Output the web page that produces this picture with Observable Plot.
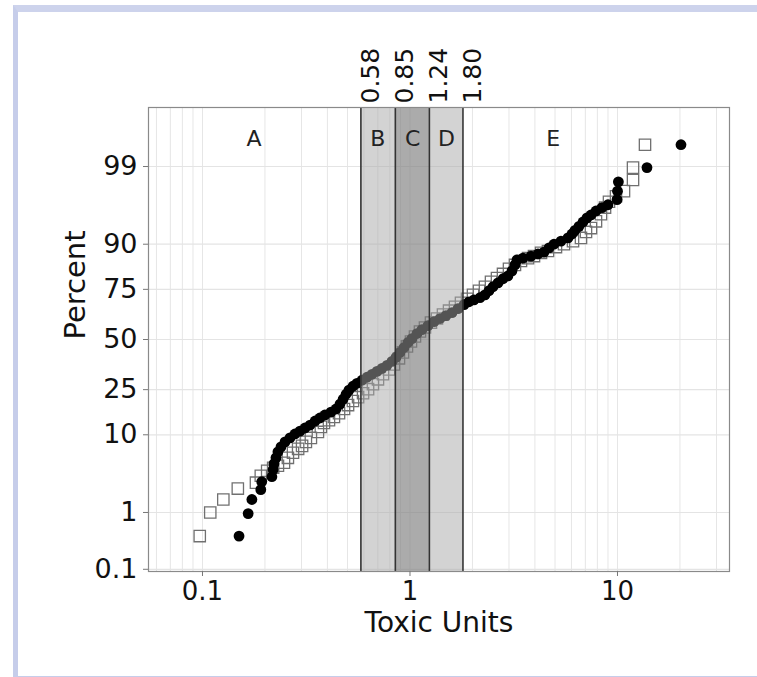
<!DOCTYPE html>
<html>
<head>
<meta charset="utf-8">
<script src="https://cdn.jsdelivr.net/npm/d3@7"></script>
<script src="https://cdn.jsdelivr.net/npm/@observablehq/plot@0.6"></script>
<style>
  html, body { margin: 0; padding: 0; background: #ffffff; }
  #wrap { position: relative; width: 757px; height: 677px; overflow: hidden; }
  #wrap svg { position: absolute; left: 0; top: 0; }
  #border { position: absolute; left: 13px; top: 5px; width: 800px; height: 664px;
    border-left: 5px solid #c6cdea; border-top: 7px solid #cdd3ec; border-bottom: 4px solid #c6cdea;
    pointer-events: none; }
</style>
</head>
<body>
<div id="wrap"><div id="border"></div></div>
<script>
// ---- data (Toxic Units vs cumulative percent) ----
const circleX = [0.150,0.166,0.173,0.191,0.193,0.216,0.219,0.221,0.226,0.231,0.239,0.250,0.264,0.279,0.295,0.312,0.330,0.349,0.368,0.389,0.416,0.440,0.460,0.476,0.492,0.508,0.531,0.555,0.587,0.621,0.656,0.693,0.733,0.775,0.819,0.856,0.895,0.936,0.978,1.022,1.081,1.142,1.221,1.306,1.395,1.491,1.594,1.704,1.821,1.924,2.034,2.174,2.298,2.403,2.512,2.656,2.807,2.967,3.102,3.206,3.279,3.504,3.830,4.140,4.424,4.677,4.943,5.342,5.773,6.035,6.240,6.523,6.820,7.129,7.452,7.878,8.420,9.000,9.95,10.0,10.1,13.87,20.23];
const circlePct = [0.41,0.96,1.57,2.17,2.79,3.25,4.00,4.74,5.58,6.54,7.44,8.43,9.28,10.2,10.9,11.7,12.5,13.65,14.55,15.5,16.45,17.5,19.25,21.1,23.1,24.8,26.5,27.8,29.2,30.6,32.0,33.4,34.9,36.4,38.4,40.5,43.1,45.7,48.4,50.5,53.2,55.3,57.4,59.5,61.1,62.6,64.1,66.1,68.0,69.4,70.3,71.3,72.6,74.4,76.1,77.7,79.3,80.4,82.2,84.2,85.8,86.3,86.9,87.5,88.0,89.1,90.0,90.7,91.4,92.2,92.9,93.6,94.3,94.9,95.3,95.8,96.2,96.5,97.0,97.7,98.3,98.96,99.56];

const squareX = [0.097,0.109,0.126,0.148,0.181,0.191,0.205,0.219,0.231,0.247,0.258,0.273,0.289,0.302,0.315,0.333,0.360,0.372,0.385,0.407,0.430,0.455,0.481,0.503,0.531,0.562,0.594,0.628,0.663,0.701,0.741,0.792,0.837,0.885,0.925,0.967,1.011,1.057,1.117,1.181,1.262,1.349,1.442,1.542,1.648,1.761,1.883,2.012,2.150,2.298,2.457,2.626,2.807,3.000,3.206,3.427,3.705,3.960,4.280,4.625,5.053,5.524,6.104,6.670,7.051,7.452,7.878,8.326,8.709,9.100,9.836,10.75,11.88,11.88,13.57];
const squarePct = [0.41,1.00,1.57,2.25,2.71,3.35,3.88,4.23,4.48,4.87,5.58,6.38,7.07,7.63,8.43,9.28,10.7,12.0,13.1,13.9,14.85,16.1,17.5,18.9,20.4,21.9,23.5,25.2,27.4,29.6,32.0,34.4,36.9,40.0,43.1,46.3,48.9,51.6,54.3,56.4,59.0,61.1,63.1,65.1,67.0,68.9,70.8,72.6,74.4,76.1,78.1,79.6,81.1,82.9,84.2,85.45,86.3,86.9,87.8,88.3,89.3,90.0,90.7,91.4,92.6,93.3,94.4,95.4,96.2,96.8,97.3,97.7,98.4,98.96,99.56];

const bandEdges = [0.58, 0.85, 1.24, 1.80];
const bandShade = ["light", "dark", "light"];
const regionLabels = ["A", "B", "C", "D", "E"];
const regionLabelX = [0.177, 0.70, 1.03, 1.50, 4.9];
const yTickPct = [0.1, 1, 10, 25, 50, 75, 90, 99];
const xTickVals = [0.1, 1, 10];

// ---- helpers ----
function probit(p) {
  const a=[-3.969683028665376e+01,2.209460984245205e+02,-2.759285104469687e+02,1.383577518672690e+02,-3.066479806614716e+01,2.506628277459239e+00];
  const b=[-5.447609879822406e+01,1.615858368580409e+02,-1.556989798598866e+02,6.680131188771972e+01,-1.328068155288572e+01];
  const c=[-7.784894002430293e-03,-3.223964580411365e-01,-2.400758277161838e+00,-2.549671010229583e+00,4.374664141464968e+00,2.938163982698783e+00];
  const d=[7.784695709041462e-03,3.224671290700398e-01,2.445134137142996e+00,3.754408661907416e+00];
  const pl = 0.02425, ph = 1 - pl;
  let q, r;
  if (p < pl) { q = Math.sqrt(-2*Math.log(p)); return (((((c[0]*q+c[1])*q+c[2])*q+c[3])*q+c[4])*q+c[5])/((((d[0]*q+d[1])*q+d[2])*q+d[3])*q+1); }
  if (p <= ph) { q = p - 0.5; r = q*q; return (((((a[0]*r+a[1])*r+a[2])*r+a[3])*r+a[4])*r+a[5])*q/(((((b[0]*r+b[1])*r+b[2])*r+b[3])*r+b[4])*r+1); }
  q = Math.sqrt(-2*Math.log(1-p)); return -(((((c[0]*q+c[1])*q+c[2])*q+c[3])*q+c[4])*q+c[5])/((((d[0]*q+d[1])*q+d[2])*q+d[3])*q+1);
}

const circles = circleX.map((x, i) => ({x, pct: circlePct[i]}));
const squares = squareX.map((x, i) => ({x, pct: squarePct[i]}));
const bands = bandShade.map((s, i) => ({lo: bandEdges[i], hi: bandEdges[i+1], s}));
const regions = regionLabels.map((t, i) => ({t, x: regionLabelX[i]}));
const yTicks = yTickPct.map(p => probit(p / 100));
const yLabel = new Map(yTicks.map((z, i) => [z, String(yTickPct[i])]));
const gridX = [0.01, 0.1, 1, 10].flatMap(dec => d3.range(1, 10).map(k => k * dec)).filter(v => v > 0.055 && v < 34.6);

const font = "DejaVu Sans, Verdana, sans-serif";

const chart = Plot.plot({
  width: 757,
  height: 677,
  marginLeft: 148,
  marginRight: 28,
  marginTop: 107,
  marginBottom: 106,
  style: {fontFamily: font, fontSize: "27px", color: "#111", background: "transparent"},
  x: {type: "log", domain: [0.05493, 34.66]},
  y: {domain: [-3.12, 3.12]},
  marks: [
    Plot.ruleX(gridX, {stroke: "#e6e6e6", strokeWidth: 1}),
    Plot.ruleY(yTicks, {stroke: "#e4e4e4", strokeWidth: 1.2}),
    Plot.dot(squares, {x: "x", y: d => probit(d.pct / 100), symbol: "square", r: 6.4, stroke: "#707070", strokeWidth: 1.3, fill: "none"}),
    Plot.dot(circles, {x: "x", y: d => probit(d.pct / 100), r: 5.4, fill: "#000", stroke: "none"}),
    Plot.rect(bands, {x1: "lo", x2: "hi", fill: d => d.s === "dark" ? "#808080" : "#a8a8a8", fillOpacity: d => d.s === "dark" ? 0.66 : 0.5}),
    Plot.ruleX(bandEdges, {stroke: "#333", strokeWidth: 1.6}),
    Plot.frame({stroke: "#8a8a8a", strokeWidth: 1.2}),
    Plot.axisY(yTicks, {tickFormat: z => yLabel.get(z), tickSize: 5, tickPadding: 6, stroke: "#777", fontSize: 27, label: null}),
    Plot.axisX(xTickVals, {tickFormat: d => String(d), tickSize: 5, tickPadding: 5, stroke: "#777", fontSize: 26, label: null}),
    Plot.text(bandEdges, {x: d => d, text: d => d.toFixed(2), frameAnchor: "top", rotate: -90, textAnchor: "start", dy: -4, fontSize: 25, fill: "#111"}),
    Plot.text(regions, {x: "x", text: "t", frameAnchor: "top", dy: 23, fontSize: 22, fill: "#222"}),
    Plot.text(["Percent"], {frameAnchor: "left", dx: -73, rotate: -90, fontSize: 29, fill: "#111"}),
    Plot.text(["Toxic Units"], {frameAnchor: "bottom", dy: 60, fontSize: 28, fill: "#111"})
  ]
});
document.getElementById("wrap").prepend(chart);
</script>
</body>
</html>
